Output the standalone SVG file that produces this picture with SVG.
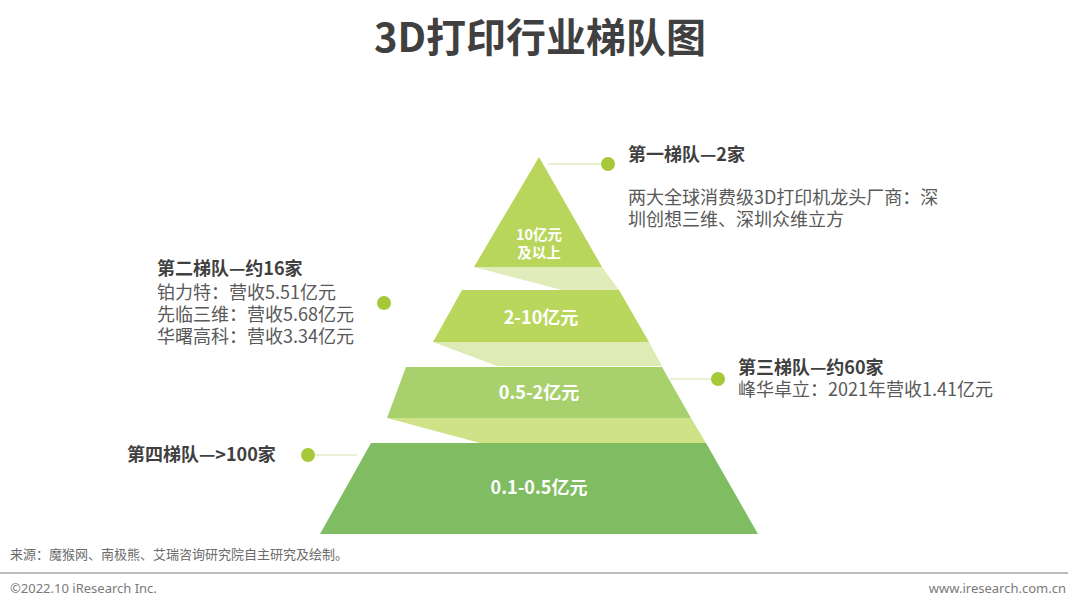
<svg xmlns="http://www.w3.org/2000/svg" width="1080" height="608" viewBox="0 0 1080 608">
  <style>
    text { font-family: "Noto Sans CJK SC", "Noto Sans", sans-serif; }
    .title { font-size: 40px; font-weight: bold; fill: #404040; }
    .head { font-size: 18px; font-weight: bold; fill: #404040; }
    .desc { font-size: 18px; fill: #595959; }
    .tier { font-size: 18px; font-weight: bold; fill: #ffffff; text-anchor: middle; }
    .tier-s { font-size: 14.5px; font-weight: bold; fill: #ffffff; text-anchor: middle; }
    .dot { fill: #a6c93a; }
    .lead { stroke: #d3e3a6; stroke-width: 1.2; fill: none; }
    .foot { font-size: 13px; fill: #6b6b6b; }
    .foot2 { font-family: "Noto Sans", sans-serif; font-size: 13px; fill: #7a7a7a; }
  </style>

  <text class="title" x="540" y="52" text-anchor="middle">3D打印行业梯队图</text>

  <g id="connectors">
    <polygon points="474,267 602,267 619,290 562,290" fill="#e1ecbb"/>
    <polygon points="433,342 649,342 662,366 497,366" fill="#dfebb4"/>
    <polygon points="387,418 691,418 706,443 480,443" fill="#cfe287"/>
    <line class="lead" x1="548" y1="164" x2="608" y2="164"/>
    <line class="lead" x1="670" y1="379" x2="718" y2="379"/>
    <line class="lead" x1="308" y1="455" x2="357" y2="455"/>
  </g>

  <g id="tier1">
    <polygon points="539,157 602,267 474,267" fill="#b7d65b"/>
    <text class="tier-s" x="539" y="240">10亿元</text>
    <text class="tier-s" x="539" y="258">及以上</text>
  </g>
  <g id="tier2">
    <polygon points="462,290 619,290 649,342 433,342" fill="#b9d75d"/>
    <text class="tier" x="541" y="324">2-10亿元</text>
  </g>
  <g id="tier3">
    <polygon points="406,367 662,367 691,418 387,418" fill="#a8d16e"/>
    <text class="tier" x="539" y="399">0.5-2亿元</text>
  </g>
  <g id="tier4">
    <polygon points="371,443 706,443 758,534 320,534" fill="#80bd62"/>
    <text class="tier" x="539" y="494">0.1-0.5亿元</text>
  </g>

  <g id="label1">
    <circle class="dot" cx="608" cy="164" r="7"/>
    <text class="head" x="628" y="161">第一梯队—2家</text>
    <text class="desc" x="628" y="204">两大全球消费级3D打印机龙头厂商：深</text>
    <text class="desc" x="628" y="226">圳创想三维、深圳众维立方</text>
  </g>
  <g id="label2">
    <circle class="dot" cx="384" cy="303" r="7"/>
    <text class="head" x="157" y="275">第二梯队—约16家</text>
    <text class="desc" x="157" y="299">铂力特：营收5.51亿元</text>
    <text class="desc" x="157" y="321">先临三维：营收5.68亿元</text>
    <text class="desc" x="157" y="343">华曙高科：营收3.34亿元</text>
  </g>
  <g id="label3">
    <circle class="dot" cx="718" cy="379" r="7"/>
    <text class="head" x="738" y="374">第三梯队—约60家</text>
    <text class="desc" x="738" y="396">峰华卓立：2021年营收1.41亿元</text>
  </g>
  <g id="label4">
    <circle class="dot" cx="308" cy="455" r="7"/>
    <text class="head" x="127" y="461">第四梯队—&gt;100家</text>
  </g>

  <g id="footer">
    <text class="foot" x="10" y="559">来源：魔猴网、南极熊、艾瑞咨询研究院自主研究及绘制。</text>
    <line x1="0" y1="573" x2="1068" y2="573" stroke="#a6a6a6" stroke-width="1.5"/>
    <text class="foot2" x="10" y="593">©2022.10 iResearch Inc.</text>
    <text class="foot2" x="1066" y="593" text-anchor="end">www.iresearch.com.cn</text>
  </g>
</svg>
